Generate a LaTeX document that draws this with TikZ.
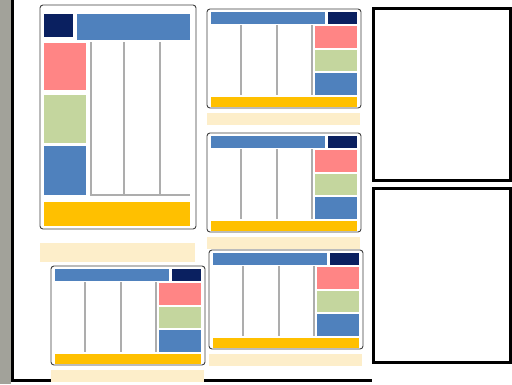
\documentclass[tikz,border=0pt]{standalone}
\usepackage{xcolor}

\definecolor{navyblk}{RGB}{10,32,96}
\definecolor{headblue}{RGB}{79,129,189}
\definecolor{pinkblk}{RGB}{255,133,133}
\definecolor{greenblk}{RGB}{196,214,158}
\definecolor{yellowbar}{RGB}{255,192,0}
\definecolor{paleyellow}{RGB}{253,238,202}
\definecolor{sidegray}{RGB}{162,162,154}

\begin{document}
\begin{tikzpicture}[
    x=1pt, y=-1pt, % pixel grid, y going down
    tileframe/.style={draw=black!75, line width=0.9pt, rounded corners=3pt, fill=white},
    block/.style={fill=#1, draw=none},
    colsep/.style={draw=black!32, line width=2.4pt},
    blankbox/.style={draw=black, line width=3pt, fill=white},
    % landscape thumbnail, origin at top-left of its header bar
    widetile/.pic={
      \fill[paleyellow] (-4,101) rectangle (149,113);
      \draw[tileframe] (-4,-3) rectangle (150,96);
      \fill[block=headblue] (0,0) rectangle (114,12);
      \fill[block=navyblk] (117,0) rectangle (146,12);
      \foreach \cx in {30,66,101}
        \draw[colsep] (\cx,13) -- (\cx,83);
      \fill[block=pinkblk]  (104,14) rectangle (146,36);
      \fill[block=greenblk] (104,38) rectangle (146,59);
      \fill[block=headblue] (104,61) rectangle (146,83);
      \fill[block=yellowbar] (0,85) rectangle (146,95);
    },
  ]

  \useasboundingbox (0,0) rectangle (512,384);
  \fill[white] (0,0) rectangle (512,384);

  % Side strip and page edges
  \fill[sidegray] (0,0) rectangle (11,384);
  \draw[line width=3pt] (12.5,0) -- (12.5,380) -- (372,380);

  % Tall thumbnail (top left)
  \fill[paleyellow] (40,243) rectangle (195,262);
  \draw[tileframe] (40,5) rectangle (196,229);
  \fill[block=navyblk] (44,14) rectangle (73,37);
  \fill[block=headblue] (77,14) rectangle (190,40);
  \fill[block=pinkblk]  (44,43) rectangle (86,90);
  \fill[block=greenblk] (44,95) rectangle (86,143);
  \fill[block=headblue] (44,146) rectangle (86,195);
  \foreach \cx in {91,124,160}
    \draw[colsep] (\cx,42) -- (\cx,195);
  \draw[colsep] (90,195) -- (190,195);
  \fill[block=yellowbar] (44,202) rectangle (190,226);

  % Landscape thumbnails
  \pic at (211,12) {widetile};
  \pic at (211,136) {widetile};
  \pic at (213,253) {widetile};
  \pic at (55,269) {widetile};

  % Empty boxes (right)
  \draw[blankbox] (373,8) rectangle (510,180);
  \draw[blankbox] (373,188) rectangle (510,362);

\end{tikzpicture}
\end{document}
